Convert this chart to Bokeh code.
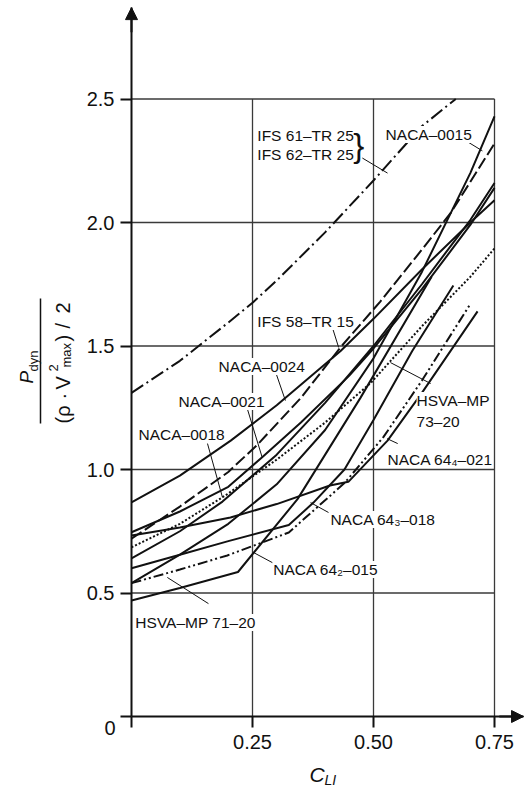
import math

from bokeh.embed import file_html
from bokeh.models import Arrow, FixedTicker, Label, NormalHead, NumeralTickFormatter
from bokeh.plotting import figure
from bokeh.resources import INLINE

FONT = "Liberation Sans"
INK = "#111111"

# ---- data: lift coefficient C_LI vs. minimum-pressure ratio for rudder profiles ----
ifs_61_62_cl = [0.0, 0.1, 0.2, 0.25, 0.3, 0.4, 0.5, 0.6, 0.67]
ifs_61_62_p = [1.31, 1.44, 1.595, 1.675, 1.765, 1.96, 2.17, 2.39, 2.50]

naca_0015_cl = [0.0, 0.1, 0.2, 0.3, 0.4, 0.5, 0.6, 0.7, 0.75]
naca_0015_p = [0.54, 0.655, 0.78, 0.94, 1.16, 1.45, 1.80, 2.20, 2.43]

ifs_58_cl = [0.0, 0.1, 0.2, 0.26, 0.35, 0.432, 0.514, 0.6, 0.66, 0.75]
ifs_58_p = [0.72, 0.85, 0.99, 1.10, 1.29, 1.495, 1.68, 1.89, 2.04, 2.32]

naca_0024_cl = [0.0, 0.1, 0.205, 0.3, 0.432, 0.5, 0.6, 0.7, 0.75]
naca_0024_p = [0.867, 0.975, 1.117, 1.26, 1.48, 1.61, 1.81, 2.0, 2.09]

naca_0021_cl = [0.0, 0.1, 0.2, 0.27, 0.35, 0.45, 0.5, 0.6, 0.7, 0.75]
naca_0021_p = [0.746, 0.83, 0.93, 1.05, 1.19, 1.38, 1.49, 1.73, 1.99, 2.14]

naca_0018_cl = [0.0, 0.1, 0.188, 0.3, 0.4, 0.5, 0.6, 0.7, 0.75]
naca_0018_p = [0.64, 0.75, 0.87, 1.06, 1.27, 1.50, 1.75, 2.01, 2.16]

hsva_73_20_cl = [0.0, 0.1, 0.194, 0.3, 0.4, 0.494, 0.6, 0.7, 0.75]
hsva_73_20_p = [0.685, 0.78, 0.895, 1.04, 1.19, 1.35, 1.58, 1.78, 1.895]

naca_64_4_021_cl = [0.0, 0.1, 0.2045, 0.3, 0.41, 0.448, 0.529, 0.6, 0.715]
naca_64_4_021_p = [0.733, 0.765, 0.806, 0.86, 0.935, 0.95, 1.117, 1.31, 1.64]

naca_64_3_018_cl = [0.0, 0.1, 0.2, 0.325, 0.376, 0.44, 0.5, 0.58, 0.665]
naca_64_3_018_p = [0.60, 0.655, 0.71, 0.775, 0.866, 1.0, 1.2, 1.48, 1.745]

naca_64_2_015_cl = [0.0, 0.1, 0.22, 0.343, 0.473, 0.62]
naca_64_2_015_p = [0.47, 0.52, 0.585, 0.88, 1.29, 1.78]

hsva_71_20_cl = [0.0, 0.1, 0.198, 0.325, 0.44, 0.52, 0.6, 0.70]
hsva_71_20_p = [0.54, 0.595, 0.652, 0.745, 0.945, 1.13, 1.36, 1.67]

x_ticks = [0.0, 0.25, 0.5, 0.75]
y_ticks = [0.0, 0.5, 1.0, 1.5, 2.0, 2.5]
grid_x = [0.25, 0.5, 0.75]
grid_y = [0.5, 1.0, 1.5, 2.0, 2.5]

series = [
    (ifs_61_62_cl, ifs_61_62_p, "14 4 2 4"),
    (naca_0015_cl, naca_0015_p, "solid"),
    (ifs_58_cl, ifs_58_p, "12 4"),
    (naca_0024_cl, naca_0024_p, "solid"),
    (naca_0021_cl, naca_0021_p, "solid"),
    (naca_0018_cl, naca_0018_p, "solid"),
    (hsva_73_20_cl, hsva_73_20_p, "2 2"),
    (naca_64_4_021_cl, naca_64_4_021_p, "solid"),
    (naca_64_3_018_cl, naca_64_3_018_p, "solid"),
    (naca_64_2_015_cl, naca_64_2_015_p, "solid"),
    (hsva_71_20_cl, hsva_71_20_p, "10 3 2 3 2 3"),
]

# ---- figure: the frame fills the canvas, axes sit at the origin ----
X_END, Y_END = 0.81, 2.87          # arrow tips of the two axes
p = figure(
    width=529, height=789,
    x_range=(-131 / 484, 398 / 484), y_range=(-73 / 247, 716 / 247),
    output_backend="svg", toolbar_location=None, min_border=0,
)
p.outline_line_color = None
p.grid.visible = False
p.background_fill_color = "white"

for ax in (p.xaxis[0], p.yaxis[0]):
    ax.fixed_location = 0
    ax.axis_line_width = 2
    ax.axis_line_color = INK
    ax.major_tick_line_width = 2
    ax.major_tick_line_color = INK
    ax.major_tick_out = 11
    ax.major_tick_in = 0
    ax.minor_tick_line_color = None
    ax.major_label_text_font = FONT
    ax.major_label_text_font_size = "20px"
    ax.major_label_text_color = INK

p.xaxis.bounds = (0, X_END)
p.xaxis.ticker = FixedTicker(ticks=x_ticks)
p.xaxis.formatter = NumeralTickFormatter(format="0.00")
p.xaxis.major_label_overrides = {0: ""}
p.xaxis.major_label_standoff = 7
p.yaxis.bounds = (0, Y_END)
p.yaxis.ticker = FixedTicker(ticks=y_ticks)
p.yaxis.formatter = NumeralTickFormatter(format="0.0")
p.yaxis.major_label_overrides = {0: ""}
p.yaxis.major_label_standoff = 6

# grid box limited to the charted region
p.segment(x0=grid_x, y0=[0] * len(grid_x), x1=grid_x, y1=[grid_y[-1]] * len(grid_x),
          line_color="#3a3a3a", line_width=1.3)
p.segment(x0=[0] * len(grid_y), y0=grid_y, x1=[x_ticks[-1]] * len(grid_y), y1=grid_y,
          line_color="#3a3a3a", line_width=1.3)

for xs, ys, dash in series:
    p.line(xs, ys, line_color=INK, line_width=2, line_dash=dash)

# axis arrow heads
p.add_layout(Arrow(end=NormalHead(size=12, fill_color=INK, line_color=INK),
                   x_start=0, y_start=Y_END - 0.1, x_end=0, y_end=Y_END,
                   line_width=2, line_color=INK))
p.add_layout(Arrow(end=NormalHead(size=12, fill_color=INK, line_color=INK),
                   x_start=X_END - 0.05, y_start=0, x_end=X_END, y_end=0,
                   line_width=2, line_color=INK))

# ---- curve labels with leader lines ----
curve_labels = [
    ("IFS 61–TR 25", 0.260, 2.352),
    ("IFS 62–TR 25", 0.260, 2.275),
    ("NACA–0015", 0.525, 2.356),
    ("IFS 58–TR 15", 0.260, 1.599),
    ("NACA–0024", 0.180, 1.417),
    ("NACA–0021", 0.097, 1.275),
    ("NACA–0018", 0.0145, 1.142),
    ("HSVA–MP", 0.589, 1.279),
    ("73–20", 0.589, 1.194),
    ("NACA 64₄–021", 0.529, 1.040),
    ("NACA 64₃–018", 0.411, 0.798),
    ("NACA 64₂–015", 0.293, 0.595),
    ("HSVA–MP 71–20", 0.008, 0.381),
]
for text, lx, ly in curve_labels:
    p.add_layout(Label(x=lx, y=ly, text=text, text_font=FONT, text_font_size="15.5px",
                       text_color=INK, text_baseline="alphabetic",
                       background_fill_color="white"))

p.add_layout(Label(x=0.458, y=2.31, text="}", text_font=FONT, text_font_size="33px",
                   text_color=INK, text_baseline="alphabetic"))

leaders = [
    (0.477, 2.261, 0.529, 2.20),
    (0.680, 2.344, 0.725, 2.29),
    (0.415, 1.575, 0.428, 1.494),
    (0.298, 1.393, 0.318, 1.279),
    (0.236, 1.267, 0.270, 1.049),
    (0.157, 1.105, 0.188, 0.887),
    (0.535, 1.433, 0.618, 1.348),
    (0.528, 1.125, 0.550, 1.105),
    (0.370, 0.866, 0.407, 0.826),
    (0.252, 0.664, 0.291, 0.623),
    (0.074, 0.563, 0.159, 0.457),
]
p.segment(x0=[l[0] for l in leaders], y0=[l[1] for l in leaders],
          x1=[l[2] for l in leaders], y1=[l[3] for l in leaders],
          line_color=INK, line_width=1)


# ---- axis titles ----
def px(x_pix, y_pix):
    """Canvas pixel position -> data position."""
    return (x_pix - 131) / 484, (716 - y_pix) / 247


def lab(text, pos, size, **kw):
    p.add_layout(Label(x=pos[0], y=pos[1], text=text, text_font=FONT, text_font_size=size,
                       text_color=INK, **kw))


lab("0", px(115, 727), "20px", text_align="right", text_baseline="middle")

# x title: C with subscript LI
lab("C", px(309, 774), "21px", text_font_style="italic", text_baseline="alphabetic")
lab("LI", px(324, 779), "14px", text_font_style="italic", text_baseline="alphabetic")

# y title: P_dyn over (rho * V^2_max) / 2, set upright along the axis
up = math.pi / 2
rot = dict(angle=up, text_baseline="alphabetic", text_align="left")
lab("P", px(26, 383), "19px", text_font_style="italic", **rot)
lab("dyn", px(33, 371), "13px", **rot)
lab("(ρ", px(62, 423), "20px", **rot)
lab("·", px(62, 399), "20px", **rot)
lab("V", px(62, 389), "20px", **rot)
lab("2", px(53, 371), "13px", **rot)
lab("max", px(66, 367), "13px", **rot)
lab(")", px(62, 341), "20px", **rot)
lab("/", px(62, 328), "20px", **rot)
lab("2", px(62, 313), "20px", **rot)
fx0, fy0 = px(40, 423)
fx1, fy1 = px(40, 298)
p.segment(x0=[fx0], y0=[fy0], x1=[fx1], y1=[fy1], line_color=INK, line_width=1.5)

open("out.html", "w").write(file_html(p, INLINE))
